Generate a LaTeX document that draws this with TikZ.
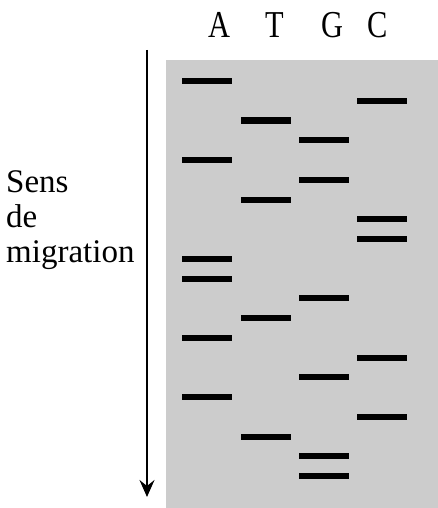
\documentclass[tikz,border=0pt]{standalone}
\usepackage{fontspec}
\setmainfont{Liberation Serif}
\usetikzlibrary{arrows.meta}
\definecolor{gelgray}{HTML}{CCCCCC}
\begin{document}
\begin{tikzpicture}[x=1pt,y=-1pt,
  band/.style={rectangle,fill=black,inner sep=0pt,minimum width=50pt,minimum height=6pt},
  lanelabel/.style={anchor=base,inner sep=0pt,font=\fontsize{38}{42}\selectfont},
  sidelabel/.style={anchor=base west,inner sep=0pt,font=\fontsize{33}{37}\selectfont}]
\useasboundingbox (0,0) rectangle (438,508);
% gel
\fill[gelgray] (166,60) rectangle (438,508);
% lane labels
\node[lanelabel] (lA) at (219,38) {\scalebox{0.8}[1]{A}};
\node[lanelabel] (lT) at (275,38) {\scalebox{0.8}[1]{T}};
\node[lanelabel] (lG) at (332,38) {\scalebox{0.8}[1]{G}};
\node[lanelabel] (lC) at (378,38) {\scalebox{0.8}[1]{C}};
% side label
\node[sidelabel] (s1) at (6,192) {Sens};
\node[sidelabel] (s2) at (6,227) {de};
\node[sidelabel] (s3) at (6,262) {migration};
% arrow
\coordinate (arrtop) at (147,50);
\coordinate (arrbot) at (147,497);
\draw[line width=2.2pt,-{Stealth[length=17pt,width=15pt,inset=6pt]}] (arrtop) -- (arrbot);
% bands
\def\xA{206.5}\def\xT{265.5}\def\xG{324.3}\def\xC{381.7}
\foreach \k/\lane in {0/A,1/C,2/T,3/G,4/A,5/G,6/T,7/C,8/C,9/A,10/A,11/G,12/T,13/A,14/C,15/G,16/A,17/C,18/T,19/G,20/G}{
  \pgfmathsetmacro{\yy}{81+19.75*\k}
  \node[band] (b\k) at (\csname x\lane\endcsname,\yy) {};
}
\end{tikzpicture}
\end{document}
